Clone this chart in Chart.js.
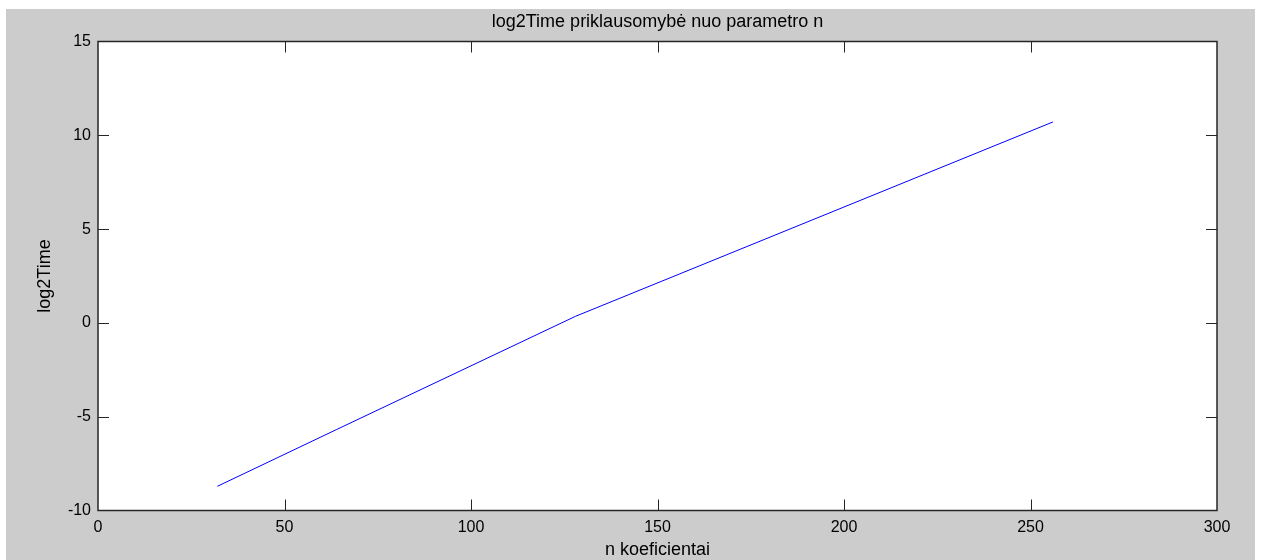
<!DOCTYPE html>
<html>
<head>
<meta charset="utf-8">
<script src="https://cdn.jsdelivr.net/npm/chart.js@4/dist/chart.umd.min.js"></script>
<style>
  html, body { margin: 0; padding: 0; background: #fff; }
  canvas { display: block; }
</style>
</head>
<body>
<canvas id="myChart" width="1262" height="560"></canvas>
<script>
// duomenys nuskaityti nuo paveikslo
const nValues = [32, 64, 128, 256];
const log2Time = [-8.71, -5.68, 0.35, 10.71];
const xTicks = [0, 50, 100, 150, 200, 250, 300];
const yTicks = [-10, -5, 0, 5, 10, 15];

const points = nValues.map((n, i) => ({ x: n, y: log2Time[i] }));

// pilkas fonas kaip MATLAB lange
const figureBg = {
    id: 'figureBg',
    beforeDraw(chart) {
        const c = chart.ctx;
        c.save();
        c.fillStyle = '#ffffff';
        c.fillRect(0, 0, chart.width, chart.height);
        c.fillStyle = '#cccccc';
        c.fillRect(6, 9, 1249, 551);
        const a = chart.chartArea;
        c.fillStyle = '#ffffff';
        c.fillRect(a.left, a.top, a.right - a.left, a.bottom - a.top);
        c.restore();
    }
};

// rėmelis ir vidinės žymės (ticks į vidų)
const axesBox = {
    id: 'axesBox',
    afterDraw(chart) {
        const c = chart.ctx;
        const a = chart.chartArea;
        const xs = chart.scales.x, ys = chart.scales.y;
        const len = 11;
        c.save();
        c.strokeStyle = '#262626';
        c.lineWidth = 1;
        c.beginPath();
        xTicks.slice(1, -1).forEach(v => {
            const px = Math.round(xs.getPixelForValue(v)) + 0.5;
            c.moveTo(px, a.bottom); c.lineTo(px, a.bottom - len);
            c.moveTo(px, a.top); c.lineTo(px, a.top + len);
        });
        yTicks.slice(1, -1).forEach(v => {
            const py = Math.round(ys.getPixelForValue(v)) + 0.5;
            c.moveTo(a.left, py); c.lineTo(a.left + len, py);
            c.moveTo(a.right, py); c.lineTo(a.right - len, py);
        });
        c.stroke();
        c.lineWidth = 1.5;
        c.strokeRect(a.left, a.top, a.right - a.left, a.bottom - a.top);
        c.restore();
    }
};

const tickFont = { family: "'Liberation Sans', Arial, sans-serif", size: 16 };
const labelFont = { family: "'Liberation Sans', Arial, sans-serif", size: 18 };

const ctx = document.getElementById('myChart').getContext('2d');
const myChart = new Chart(ctx, {
    type: 'line',
    data: {
        datasets: [{
            label: 'log2Time',
            data: points,
            borderColor: '#0000ff',
            borderWidth: 1,
            pointRadius: 0,
            tension: 0,
            fill: false
        }]
    },
    options: {
        responsive: false,
        animation: false,
        layout: { padding: { top: 3, left: 0, right: 45, bottom: 0 } },
        plugins: {
            legend: { display: false },
            tooltip: { enabled: false },
            title: {
                display: true,
                fullSize: false,
                text: 'log2Time priklausomybė nuo parametro n',
                color: '#000',
                font: { ...labelFont, weight: 'normal' },
                padding: { top: 8.2, bottom: 8.7 }
            }
        },
        scales: {
            x: {
                type: 'linear',
                min: 0,
                max: 300,
                grid: { display: false, drawTicks: false },
                border: { display: false },
                afterBuildTicks: s => { s.ticks = xTicks.map(v => ({ value: v })); },
                ticks: { color: '#000', font: tickFont, padding: 7, maxRotation: 0 },
                title: { display: true, text: 'n koeficientai', color: '#000', font: labelFont, padding: { top: 0, bottom: -1 } },
                afterFit: s => { s.height = 49.5; }
            },
            y: {
                type: 'linear',
                min: -10,
                max: 15,
                grid: { display: false, drawTicks: false },
                border: { display: false },
                afterBuildTicks: s => { s.ticks = yTicks.map(v => ({ value: v })); },
                ticks: { color: '#000', font: tickFont, padding: 7 },
                title: { display: true, text: 'log2Time', color: '#000', font: labelFont, padding: { top: 34.2, bottom: 0 } },
                afterFit: s => { s.width = 98; }
            }
        }
    },
    plugins: [figureBg, axesBox]
});
</script>
</body>
</html>
